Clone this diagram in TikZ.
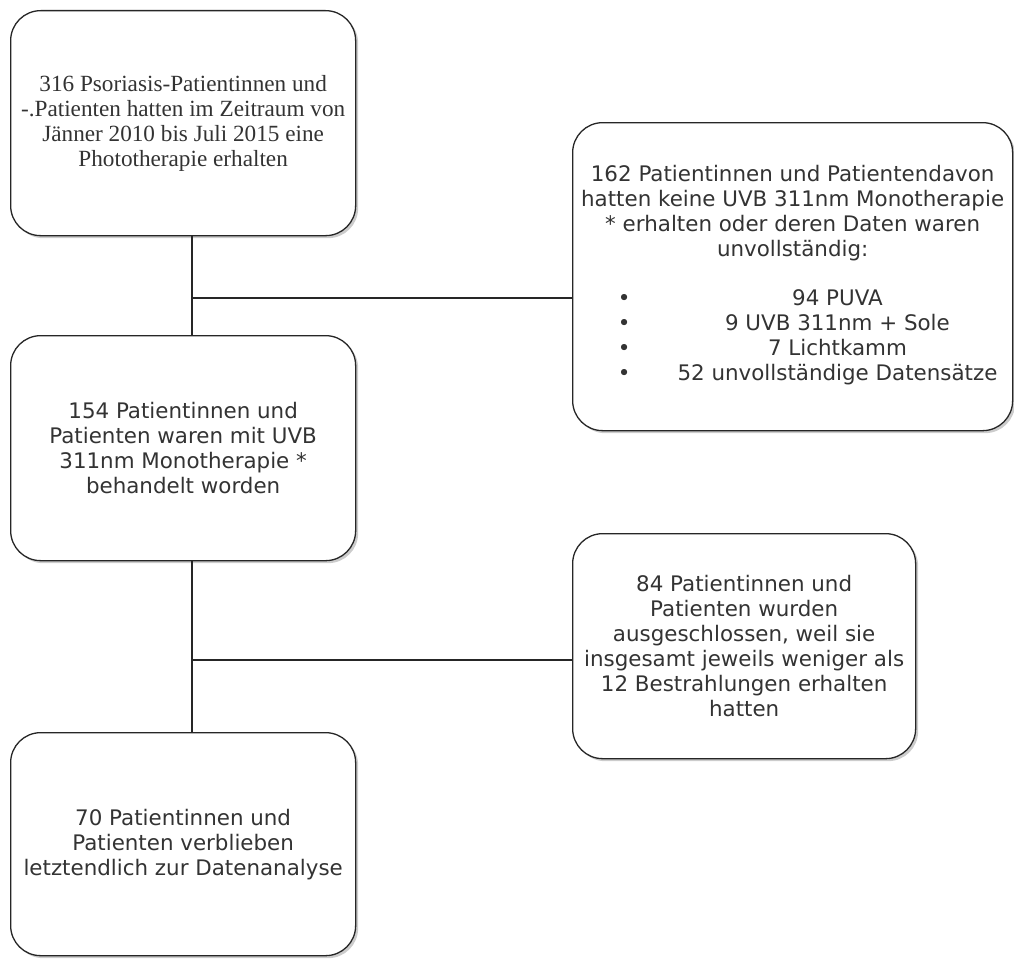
\documentclass[tikz,border=0pt]{standalone}
\usepackage{fontspec}
\setmainfont{DejaVu Sans}
\newfontfamily\timesfont{Liberation Serif}
\usetikzlibrary{positioning,shadows}

\begin{document}
\begin{tikzpicture}[x=1pt,y=-1pt,
  box/.style={draw=black!85, line width=1.3pt, rounded corners=30pt, fill=white,
    drop shadow={shadow xshift=2.5pt, shadow yshift=-2.5pt, fill=black!40},
    align=center, text=black!80, inner sep=0pt, anchor=north west,
    font=\fontsize{21.4}{25}\selectfont},
  link/.style={draw=black!85, line width=1.2pt}]

\useasboundingbox (0,0) rectangle (1014,958);

% Left column
\node[box, minimum width=345pt, minimum height=225pt,
  font=\timesfont\fontsize{23.2}{25}\selectfont] (total) at (10,10)
  {316 Psoriasis-Patientinnen und\\-.Patienten hatten im Zeitraum von\\
   Jänner 2010 bis Juli 2015 eine\\Phototherapie erhalten};
\node[box, minimum width=345pt, minimum height=225pt] (mono) at (10,335)
  {154 Patientinnen und\\Patienten waren mit UVB\\311nm Monotherapie *\\behandelt worden};
\node[box, minimum width=345pt, minimum height=223pt] (final) at (10,732)
  {70 Patientinnen und\\Patienten verblieben\\letztendlich zur Datenanalyse};

% Right column
\node[box, minimum width=440pt, minimum height=308pt] (excl1) at (572,122)
  {162 Patientinnen und Patientendavon\\hatten keine UVB 311nm Monotherapie\\
   * erhalten oder deren Daten waren\\unvollständig:\\[24pt]
   \hspace*{30pt}\begin{tabular}[t]{@{}l@{\hspace{47pt}}c@{}}
   \textbullet & 94 PUVA\\
   \textbullet & 9 UVB 311nm + Sole\\
   \textbullet & 7 Lichtkamm\\
   \textbullet & 52 unvollständige Datensätze
   \end{tabular}};
\node[box, minimum width=343pt, minimum height=225pt] (excl2) at (572,533)
  {84 Patientinnen und\\Patienten wurden\\ausgeschlossen, weil sie\\
   insgesamt jeweils weniger als\\12 Bestrahlungen erhalten\\hatten};

% Connectors
\coordinate (j1) at (192,298);
\coordinate (j2) at (192,660);
\draw[link] (j1 |- total.south) -- (j1 |- mono.north);
\draw[link] (j1) -- (j1 -| excl1.west);
\draw[link] (j2 |- mono.south) -- (j2 |- final.north);
\draw[link] (j2) -- (j2 -| excl2.west);

\end{tikzpicture}
\end{document}
